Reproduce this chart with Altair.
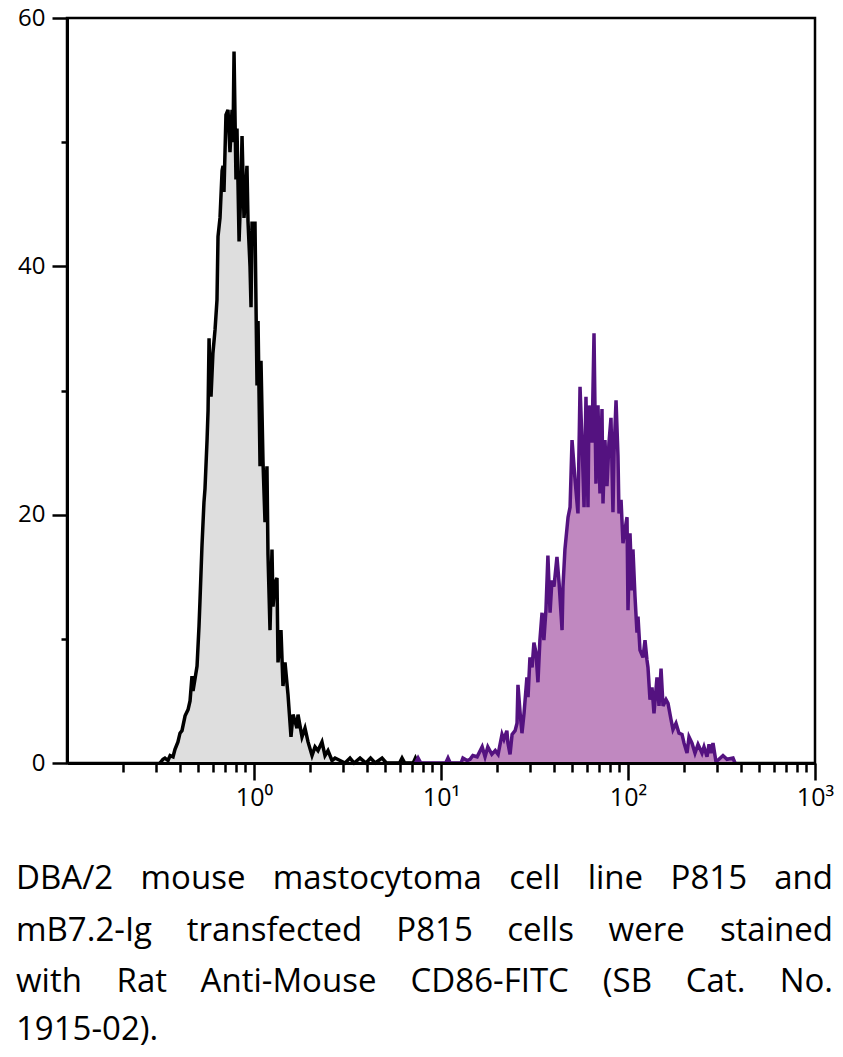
import altair as alt
import pandas as pd

# ---- data: P815 control (black) histogram ----
ctrl_fl = [0.314, 0.326, 0.334, 0.347, 0.356, 0.369, 0.378, 0.392, 0.402, 0.412,
           0.428, 0.444, 0.455, 0.466, 0.472, 0.484, 0.496, 0.508, 0.514, 0.527,
           0.540, 0.547, 0.561, 0.568, 0.575, 0.582, 0.589, 0.603, 0.619, 0.634,
           0.642, 0.658, 0.675, 0.683, 0.691, 0.708, 0.726, 0.744, 0.763, 0.772,
           0.782, 0.801, 0.811, 0.832, 0.852, 0.863, 0.884, 0.895, 0.917, 0.929,
           0.952, 0.964, 0.976, 1.000, 1.012, 1.038, 1.051, 1.077, 1.090, 1.117,
           1.145, 1.173, 1.188, 1.218, 1.248, 1.264, 1.295, 1.327, 1.344, 1.394,
           1.429, 1.465, 1.520, 1.577, 1.617, 1.698, 1.719, 1.806, 1.874, 1.945,
           2.043, 2.120, 2.199, 2.310, 2.397, 2.487, 2.613, 2.712, 2.884, 3.066,
           3.262, 3.43, 3.69, 3.97, 4.20, 4.45, 4.84, 5.10, 6.00, 6.19, 6.40,
           7.10, 7.30, 7.50]
ctrl_ct = [0.0, 0.3, 0.4, 0.2, 0.6, 0.5, 1.1, 1.7, 2.4, 2.6,
           3.8, 4.3, 5.0, 7.0, 5.8, 6.8, 7.8, 11.0, 13.0, 17.5,
           21.0, 22.1, 26.0, 28.4, 34.2, 31.0, 29.5, 33.0, 34.9, 37.3,
           42.4, 43.9, 47.7, 48.1, 46.0, 52.2, 52.6, 49.2, 52.6, 50.0,
           57.3, 47.0, 51.1, 42.0, 46.5, 50.5, 43.9, 45.0, 48.1, 43.6,
           40.0, 36.7, 43.6, 42.0, 43.6, 30.4, 35.6, 23.9, 32.4, 24.3,
           19.4, 23.9, 16.8, 10.7, 17.2, 12.6, 14.5, 14.9, 8.1, 10.7,
           6.2, 8.1, 5.5, 2.1, 3.9, 2.8, 3.9, 2.1, 2.8, 1.7,
           0.6, 1.3, 1.0, 1.7, 0.6, 1.0, 0.2, 0.4, 0.2, 0.0,
           0.4, 0.0, 0.4, 0.0, 0.4, 0.0, 0.4, 0.0, 0.0, 0.4, 0.0,
           0.0, 0.4, 0.0]

# ---- data: mB7.2-Ig transfected P815 (purple) histogram ----
trans_fl = [7.30, 7.54, 7.80, 10.6, 10.9, 11.2, 12.8, 13.1, 13.8, 14.3,
            14.8, 15.6, 16.6, 17.2, 17.8, 18.7, 19.5, 20.2, 21.2, 21.7,
            22.5, 22.8, 23.4, 24.0, 24.9, 25.5, 25.8, 26.5, 27.1, 27.8,
            28.8, 29.2, 29.9, 30.7, 31.4, 32.2, 33.0, 33.8, 34.7, 35.5,
            36.4, 37.3, 38.3, 39.2, 40.2, 41.7, 42.8, 44.4, 44.9, 46.0,
            47.8, 49.0, 50.2, 52.1, 54.0, 55.4, 56.8, 58.2, 59.6, 61.1,
            61.9, 64.2, 65.8, 67.4, 69.1, 70.8, 72.6, 73.5, 75.3, 77.2,
            79.1, 81.1, 83.1, 84.2, 86.3, 88.4, 89.5, 91.8, 94.0, 96.4,
            98.8, 100.0, 102.5, 105.1, 106.3, 109.0, 111.7, 113.1, 115.9, 120.3,
            123.3, 126.3, 127.9, 131.1, 134.4, 137.7, 142.9, 146.5, 150.2, 153.9,
            159.7, 163.7, 169.8, 174.0, 180.6, 187.4, 194.5, 199.4, 206.8, 212.0,
            219.9, 228.2, 236.8, 248.7, 254.9, 264.5, 271.2, 277.9, 284.8, 295.5,
            306.6, 322.1, 338.4, 364.3, 373.4]
trans_ct = [0.0, 0.4, 0.0, 0.0, 0.4, 0.0, 0.0, 0.4, 0.2, 0.3,
            0.6, 0.5, 1.3, 0.5, 1.3, 0.7, 1.0, 0.7, 2.3, 1.9,
            2.6, 1.6, 0.7, 2.3, 2.6, 3.2, 6.3, 4.0, 2.4, 4.0,
            6.9, 5.3, 8.5, 7.7, 9.7, 8.9, 6.5, 9.9, 12.1, 9.9,
            12.3, 16.7, 12.1, 14.7, 14.2, 16.6, 14.5, 10.7, 14.2, 17.2,
            19.8, 20.6, 26.0, 22.8, 20.1, 30.3, 25.8, 20.6, 29.5, 20.6,
            28.8, 25.8, 34.6, 22.5, 28.8, 21.7, 28.5, 20.9, 26.0, 22.3,
            25.8, 27.8, 20.2, 25.0, 29.2, 24.7, 20.1, 21.2, 17.7, 18.8,
            19.8, 12.3, 18.5, 13.9, 17.2, 13.4, 10.5, 11.8, 9.1, 8.5,
            9.9, 8.3, 7.7, 5.1, 6.1, 4.0, 6.9, 4.6, 7.6, 4.6,
            5.1, 4.8, 3.5, 2.7, 3.2, 2.4, 2.3, 1.6, 0.8, 2.1,
            1.6, 0.8, 1.5, 0.8, 1.3, 0.5, 1.5, 0.8, 1.6, 0.1,
            0.3, 0.6, 0.3, 0.4, 0.0]

# ---- axis ticks ----
x_ticks = [0.2, 0.3, 0.4, 0.5, 0.6, 0.7, 0.8, 0.9,
           1, 2, 3, 4, 5, 6, 7, 8, 9,
           10, 20, 30, 40, 50, 60, 70, 80, 90,
           100, 200, 300, 400, 500, 600, 700, 800, 900, 1000]
x_major = [1, 10, 100, 1000]
x_labels = ["10\u2070", "10\u00b9", "10\u00b2", "10\u00b3"]
y_ticks = [0, 10, 20, 30, 40, 50, 60]

# ---- caption text (justified lines) ----
caption_lines = [
    ["DBA/2", "mouse", "mastocytoma", "cell", "line", "P815", "and"],
    ["mB7.2-Ig", "transfected", "P815", "cells", "were", "stained"],
    ["with", "Rat", "Anti-Mouse", "CD86-FITC", "(SB", "Cat.", "No."],
    ["1915-02)."],
]
caption_baselines = [889, 941, 992, 1040]
CAP_SIZE = 33
PAGE_LEFT, PAGE_RIGHT = 16, 833
PLOT_X0, PLOT_Y0 = 67, 18
FONT = "Open Sans"

# approximate Open Sans advance widths (per 1000 em) for justification layout
_W = {"a": 556, "b": 613, "c": 480, "d": 613, "e": 561, "f": 336, "g": 546, "h": 614,
      "i": 258, "k": 529, "l": 258, "m": 932, "n": 614, "o": 604, "p": 613, "r": 408,
      "s": 476, "t": 352, "u": 614, "w": 801, "y": 500,
      "A": 633, "B": 648, "C": 631, "D": 729, "F": 516, "I": 279, "M": 907, "N": 764,
      "P": 602, "R": 618, "S": 549, "T": 553,
      "/": 371, "-": 322, ".": 266, "(": 296, ")": 296}


def word_width(w):
    return sum(_W.get(ch, 572) for ch in w) * CAP_SIZE / 1000.0


ctrl = pd.DataFrame({"fl": ctrl_fl, "count": ctrl_ct})
trans = pd.DataFrame({"fl": trans_fl, "count": trans_ct})

x_enc = alt.X(
    "fl:Q",
    scale=alt.Scale(type="log", domain=[0.1, 1000], nice=False),
    axis=alt.Axis(
        values=x_ticks,
        title=None,
        grid=False,
        zindex=1,
        labelExpr=" : ".join(
            f"datum.value == {v} ? '{l}'" for v, l in zip(x_major, x_labels)
        ) + " : ''",
        tickSize={"condition": {"test": "indexof([1,10,100,1000], datum.value) >= 0", "value": 17}, "value": 9},
        tickWidth=2.5,
        tickColor="black",
        domainColor="black",
        domainWidth=3,
        labelFont=FONT,
        labelFontSize=25,
        labelColor="black",
        labelPadding=5,
        labelOverlap=False,
        labelFlush=False,
    ),
)
y_enc = alt.Y(
    "count:Q",
    scale=alt.Scale(domain=[0, 60], nice=False),
    axis=alt.Axis(
        values=y_ticks,
        title=None,
        grid=False,
        zindex=1,
        labelExpr="datum.value % 20 === 0 ? datum.label : ''",
        tickSize={"condition": {"test": "datum.value % 20 === 0", "value": 15}, "value": 6},
        tickWidth=2.5,
        tickColor="black",
        domainColor="black",
        domainWidth=3,
        labelFont=FONT,
        labelFontSize=24,
        labelColor="black",
        labelPadding=7,
        labelOverlap=False,
        labelFlush=False,
    ),
)

ctrl_area = alt.Chart(ctrl).mark_area(color="#dedede", interpolate="linear").encode(x=x_enc, y=y_enc)
trans_area = alt.Chart(trans).mark_area(color="#c088c0", interpolate="linear").encode(x="fl:Q", y="count:Q")
ctrl_line = alt.Chart(ctrl).mark_line(color="black", strokeWidth=3.5).encode(x="fl:Q", y="count:Q")
trans_line = alt.Chart(trans).mark_line(color="#541280", strokeWidth=3.5).encode(x="fl:Q", y="count:Q")

plot = alt.layer(ctrl_area, trans_area, ctrl_line, trans_line)

# caption words table: full lines justified, last line left-aligned
rows = []
for li, (words, base) in enumerate(zip(caption_lines, caption_baselines)):
    widths = [word_width(w) for w in words]
    last = li == len(caption_lines) - 1
    if len(words) > 1 and not last:
        gap = (PAGE_RIGHT - PAGE_LEFT - sum(widths)) / (len(words) - 1)
    else:
        gap = 0.26 * CAP_SIZE
    x = PAGE_LEFT
    for i, (w, ww) in enumerate(zip(words, widths)):
        if len(words) > 1 and not last and i == len(words) - 1:
            rows.append({"word": w, "px": PAGE_RIGHT - PLOT_X0, "py": base - PLOT_Y0, "al": "right"})
        else:
            rows.append({"word": w, "px": x - PLOT_X0, "py": base - PLOT_Y0, "al": "left"})
        x += ww + gap
cap = pd.DataFrame(rows)


def cap_layer(al):
    return alt.Chart(cap[cap["al"] == al]).mark_text(
        align=al, baseline="alphabetic", font=FONT, fontSize=CAP_SIZE, color="black"
    ).encode(
        x=alt.X("px:Q", scale=None, axis=None),
        y=alt.Y("py:Q", scale=None, axis=None),
        text="word:N",
    )


caption = alt.layer(cap_layer("left"), cap_layer("right"))

chart = alt.layer(plot, caption).resolve_scale(x="independent", y="independent").properties(
    width=748,
    height=745,
    padding={"left": 59, "top": 10, "right": 20, "bottom": 285},
    autosize=alt.AutoSizeParams(type="none"),
).configure_view(stroke="black", strokeWidth=2.5)

chart.save("out.html", embed_options={"renderer": "svg", "actions": False})
